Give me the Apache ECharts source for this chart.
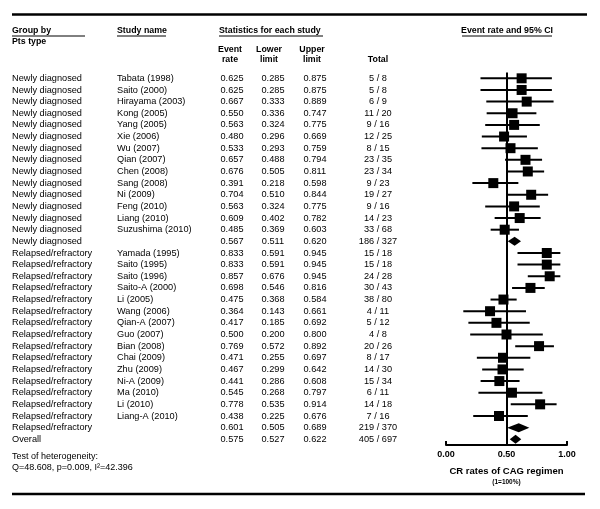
<!DOCTYPE html>
<html>
<head>
<meta charset="utf-8">
<script src="https://cdn.jsdelivr.net/npm/echarts@6/dist/echarts.min.js"></script>
<style>html,body{margin:0;padding:0;background:#fff}#c{width:600px;height:509px}</style>
</head>
<body>
<div id="c"></div>
<script>
// ---- data ----
const groups = [
  'Newly diagnosed','Newly diagnosed','Newly diagnosed','Newly diagnosed','Newly diagnosed','Newly diagnosed','Newly diagnosed',
  'Newly diagnosed','Newly diagnosed','Newly diagnosed','Newly diagnosed','Newly diagnosed','Newly diagnosed','Newly diagnosed','Newly diagnosed',
  'Relapsed/refractory','Relapsed/refractory','Relapsed/refractory','Relapsed/refractory','Relapsed/refractory','Relapsed/refractory','Relapsed/refractory','Relapsed/refractory',
  'Relapsed/refractory','Relapsed/refractory','Relapsed/refractory','Relapsed/refractory','Relapsed/refractory','Relapsed/refractory','Relapsed/refractory','Relapsed/refractory',
  'Overall'
];
const studies = [
  'Tabata (1998)','Saito (2000)','Hirayama (2003)','Kong (2005)','Yang (2005)','Xie (2006)','Wu (2007)',
  'Qian (2007)','Chen (2008)','Sang (2008)','Ni (2009)','Feng (2010)','Liang (2010)','Suzushima (2010)','',
  'Yamada (1995)','Saito (1995)','Saito (1996)','Saito-A (2000)','Li (2005)','Wang (2006)','Qian-A (2007)',
  'Guo (2007)','Bian (2008)','Chai (2009)','Zhu (2009)','Ni-A (2009)','Ma (2010)','Li (2010)','Liang-A (2010)','',
  ''
];
const eventRate = [0.625,0.625,0.667,0.550,0.563,0.480,0.533,0.657,0.676,0.391,0.704,0.563,0.609,0.485,0.567,
  0.833,0.833,0.857,0.698,0.475,0.364,0.417,0.500,0.769,0.471,0.467,0.441,0.545,0.778,0.438,0.601,0.575];
const lowerLimit = [0.285,0.285,0.333,0.336,0.324,0.296,0.293,0.488,0.505,0.218,0.510,0.324,0.402,0.369,0.511,
  0.591,0.591,0.676,0.546,0.368,0.143,0.185,0.200,0.572,0.255,0.299,0.286,0.268,0.535,0.225,0.505,0.527];
const upperLimit = [0.875,0.875,0.889,0.747,0.775,0.669,0.759,0.794,0.811,0.598,0.844,0.775,0.782,0.603,0.620,
  0.945,0.945,0.945,0.816,0.584,0.661,0.692,0.800,0.892,0.697,0.642,0.608,0.797,0.914,0.676,0.689,0.622];
const totals = ['5 / 8','5 / 8','6 / 9','11 / 20','9 / 16','12 / 25','8 / 15','23 / 35','23 / 34','9 / 23','19 / 27','9 / 16','14 / 23','33 / 68','186 / 327',
  '15 / 18','15 / 18','24 / 28','30 / 43','38 / 80','4 / 11','5 / 12','4 / 8','20 / 26','8 / 17','14 / 30','15 / 34','6 / 11','14 / 18','7 / 16','219 / 370',
  '405 / 697'];
// row kind: 0 = study, 1 = summary (diamond)
const rowKind = [0,0,0,0,0,0,0,0,0,0,0,0,0,0,1, 0,0,0,0,0,0,0,0,0,0,0,0,0,0,0,1, 1];
const xTicks = [0, 0.5, 1];

// ---- chart ----
const FONT = '"Liberation Sans", Arial, sans-serif';
const rowIdx = groups.map((_, i) => String(i));
const chart = echarts.init(document.getElementById('c'), null, {renderer: 'canvas'});

const markerData = eventRate.map((v, i) => [v, i, lowerLimit[i], upperLimit[i], rowKind[i]]);
const tableData = groups.map((_, i) => [0, i]);

function renderMarker(params, api) {
  const rate = api.value(0), row = api.value(1), lo = api.value(2), hi = api.value(3), kind = api.value(4);
  const c = api.coord([rate, row]);
  const l = api.coord([lo, row]);
  const h = api.coord([hi, row]);
  if (kind === 0) {
    const s = 10;
    return {
      type: 'group',
      children: [
        {type: 'line', shape: {x1: l[0], y1: c[1], x2: h[0], y2: c[1]}, style: {stroke: '#000', lineWidth: 2}},
        {type: 'rect', shape: {x: c[0] - s / 2, y: c[1] - s / 2, width: s, height: s}, style: {fill: '#000'}}
      ]
    };
  }
  const hh = 4.5;
  return {
    type: 'polygon',
    shape: {points: [[l[0], c[1]], [c[0], c[1] - hh], [h[0], c[1]], [c[0], c[1] + hh]]},
    style: {fill: '#000'}
  };
}

function txt(x, y, text, align, bold) {
  return {type: 'text', x: x, y: y, style: {text: text, fill: '#000', font: (bold ? 'bold ' : '') + '9.2px ' + FONT, align: align || 'left', verticalAlign: 'middle'}};
}

function renderTable(params, api) {
  const i = api.value(1);
  const y = api.coord([0, i])[1];
  const ch = [
    txt(12, y, groups[i], 'left'),
    txt(117, y, studies[i], 'left'),
    txt(232, y, eventRate[i].toFixed(3), 'center'),
    txt(273, y, lowerLimit[i].toFixed(3), 'center'),
    txt(315, y, upperLimit[i].toFixed(3), 'center'),
    txt(378, y, totals[i], 'center')
  ];
  return {type: 'group', children: ch};
}

const hdr = (x, y, text, align) => ({type: 'text', x: x, y: y, style: {text: text, fill: '#000', font: 'bold 8.8px ' + FONT, align: align || 'left', verticalAlign: 'middle'}});
const hline = (x1, x2, y, w) => ({type: 'line', shape: {x1: x1, y1: y, x2: x2, y2: y}, style: {stroke: '#000', lineWidth: w}});

chart.setOption({
  animation: false,
  grid: {left: 446, width: 121, top: 72.5, height: 372.6},
  xAxis: {
    type: 'value', min: xTicks[0], max: xTicks[xTicks.length - 1], interval: 0.5,
    axisLine: {show: true, lineStyle: {color: '#000', width: 2}},
    axisTick: {show: true, inside: true, length: 4, lineStyle: {color: '#000', width: 2}},
    splitLine: {show: false},
    axisLabel: {color: '#000', fontFamily: FONT, fontWeight: 'bold', fontSize: 9, margin: 5, formatter: v => v.toFixed(2)},
    name: '{a|CR rates of CAG regimen}\n{b|(1=100%)}',
    nameLocation: 'middle', nameGap: 20,
    nameTextStyle: {
      rich: {
        a: {fontFamily: FONT, fontWeight: 'bold', fontSize: 9.5, color: '#000', lineHeight: 12},
        b: {fontFamily: FONT, fontWeight: 'bold', fontSize: 6.5, color: '#000', lineHeight: 10}
      }
    }
  },
  yAxis: {type: 'category', data: rowIdx, inverse: true, show: false, boundaryGap: true},
  series: [
    {
      type: 'custom', renderItem: renderMarker, data: markerData, clip: false,
      encode: {x: 0, y: 1},
      markLine: {
        silent: true, symbol: 'none', label: {show: false},
        lineStyle: {color: '#000', width: 2, type: 'solid'},
        data: [{xAxis: 0.5}]
      }
    },
    {type: 'custom', renderItem: renderTable, data: tableData, clip: false, encode: {x: 0, y: 1}}
  ],
  graphic: [
    hline(12, 587, 14.5, 2.5),
    hline(12, 585, 494, 2.5),
    hdr(12, 31, 'Group by'),
    hline(12, 85, 36, 1),
    hdr(12, 42, 'Pts type'),
    hdr(117, 31, 'Study name'),
    hline(117, 166, 36, 1),
    hdr(219, 31, 'Statistics for each study'),
    hline(219, 323, 36, 1),
    hdr(230, 50, 'Event', 'center'),
    hdr(230, 60, 'rate', 'center'),
    hdr(269, 50, 'Lower', 'center'),
    hdr(269, 60, 'limit', 'center'),
    hdr(312, 50, 'Upper', 'center'),
    hdr(312, 60, 'limit', 'center'),
    hdr(378, 60, 'Total', 'center'),
    hdr(507, 31, 'Event rate and 95% CI', 'center'),
    hline(462, 552, 36, 1),
    {type: 'text', x: 12, y: 457, style: {text: 'Test of heterogeneity:', fill: '#000', font: '9px ' + FONT, verticalAlign: 'middle'}},
    {type: 'text', x: 12, y: 468, style: {text: 'Q=48.608, p=0.009, I\u00B2=42.396', fill: '#000', font: '9px ' + FONT, verticalAlign: 'middle'}}
  ]
});
</script>
</body>
</html>
